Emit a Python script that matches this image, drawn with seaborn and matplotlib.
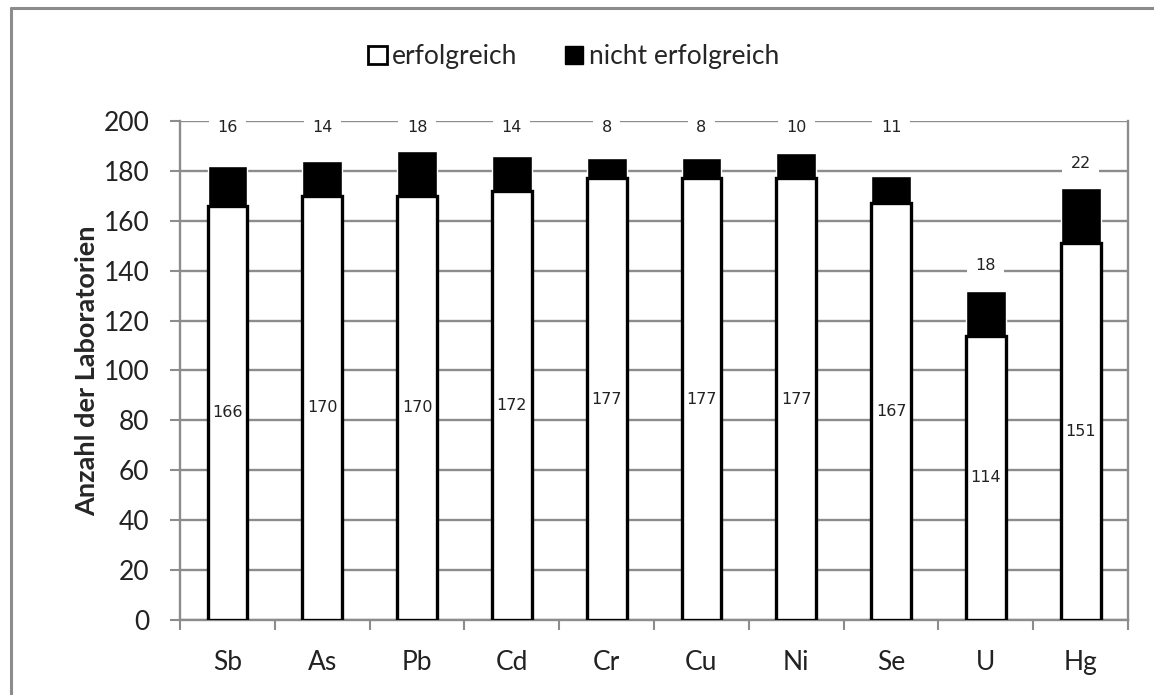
import matplotlib
matplotlib.use("Agg")
import matplotlib.pyplot as plt
import seaborn as sns
import pandas as pd
from matplotlib.patches import Patch
from matplotlib.lines import Line2D

# Daten
elemente = ["Sb", "As", "Pb", "Cd", "Cr", "Cu", "Ni", "Se", "U", "Hg"]
erfolgreich = [166, 170, 170, 172, 177, 177, 177, 167, 114, 151]
nicht_erfolgreich = [16, 14, 18, 14, 8, 8, 10, 11, 18, 22]

df = pd.DataFrame({"Element": elemente, "erfolgreich": erfolgreich,
                   "nicht": nicht_erfolgreich})
df["gesamt"] = df["erfolgreich"] + df["nicht"]

sns.set_style("white")
plt.rcParams["font.family"] = ["Lato", "DejaVu Sans"]

fig = plt.figure(figsize=(11.54, 6.95), dpi=100)
ax = fig.add_axes([0.156, 0.108, 0.8215, 0.718])

grau = "#8c8c8c"

# Balken: gesamt schwarz, erfolgreich weiss darueber
sns.barplot(data=df, x="Element", y="gesamt", color="black", saturation=1,
            width=0.42, ax=ax, zorder=3)
sns.barplot(data=df, x="Element", y="erfolgreich", color="white", saturation=1,
            edgecolor="black", linewidth=2.4, width=0.42, ax=ax, zorder=4)

ax.set_ylim(0, 200)
ax.set_xlim(-0.5, len(elemente) - 0.5)
ax.set_yticks(range(0, 201, 20))
ax.yaxis.grid(True, color=grau, linewidth=1.7, zorder=0)
ax.set_axisbelow(True)

ax.spines["top"].set_visible(False)
for s in ["left", "bottom", "right"]:
    ax.spines[s].set_color(grau)
    ax.spines[s].set_linewidth(1.7)

ax.set_xticks([i - 0.5 for i in range(len(elemente) + 1)], minor=True)
ax.tick_params(axis="x", which="minor", length=7, width=1.5, color=grau,
               direction="out", bottom=True)
ax.tick_params(axis="x", which="major", length=0, pad=22, labelsize=19,
               labelcolor="#222222")
ax.tick_params(axis="y", length=7, width=1.5, color=grau, direction="out",
               left=True, pad=15, labelsize=19, labelcolor="#222222")

ax.set_xlabel("")
ax.set_ylabel("Anzahl der Laboratorien", fontsize=19.5, fontweight="bold",
              labelpad=3)

# Beschriftungen
for i, row in df.iterrows():
    ax.text(i, row["erfolgreich"] / 2, str(row["erfolgreich"]), ha="center",
            va="center", fontsize=11.5, family="DejaVu Sans", color="#222222",
            zorder=6)
    if row["gesamt"] >= 175:
        y_oben = 197.5
    else:
        y_oben = row["gesamt"] + 10
    ax.text(i, y_oben, str(row["nicht"]), ha="center", va="center",
            fontsize=11.5, family="DejaVu Sans", color="#222222", zorder=6,
            bbox=dict(facecolor="white", edgecolor="none", pad=6))

# Legende
handles = [Patch(facecolor="white", edgecolor="black", linewidth=2.0),
           Patch(facecolor="black", edgecolor="black")]
fig.legend(handles, ["erfolgreich", "nicht erfolgreich"], loc="center",
           bbox_to_anchor=(0.497, 0.918), ncol=2, frameon=False, fontsize=19,
           handlelength=0.7, handleheight=0.7, handletextpad=0.2,
           columnspacing=1.8)

# Rahmen des Diagramms
fig.add_artist(Line2D([0.0095, 0.0095], [0.0, 0.988], color=grau,
                      linewidth=2.2, transform=fig.transFigure))
fig.add_artist(Line2D([0.0095, 1.0], [0.988, 0.988], color=grau,
                      linewidth=2.2, transform=fig.transFigure))

fig.savefig("out.png", dpi=100)
